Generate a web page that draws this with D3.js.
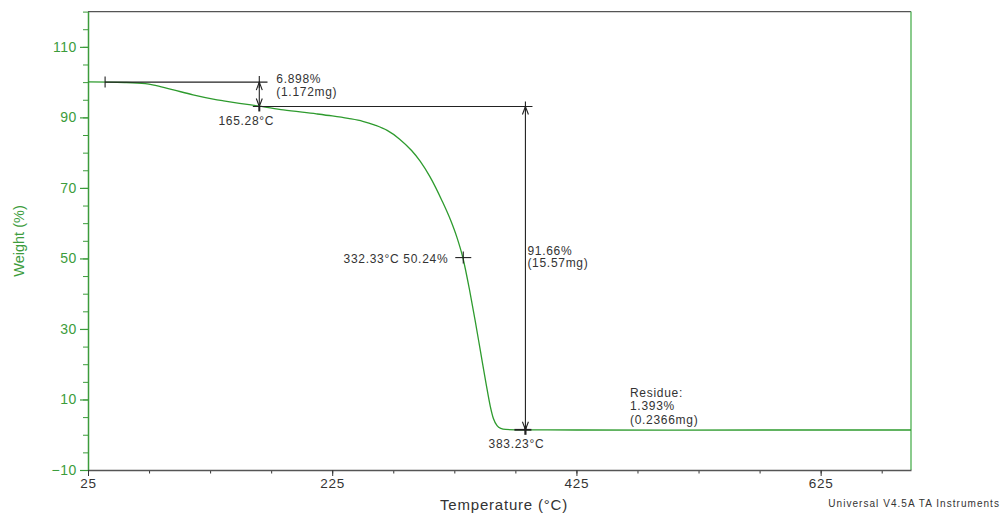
<!DOCTYPE html>
<html>
<head>
<meta charset="utf-8">
<script src="https://cdn.jsdelivr.net/npm/d3@7"></script>
<style>
  body { margin: 0; background: #fff; }
  text { font-family: "Liberation Sans", Arial, sans-serif; }
</style>
</head>
<body>
<script>
// TGA curve: temperature (°C) vs weight (%)
const temps   = [25, 55, 72, 81, 95, 111, 127.5, 136, 149, 165.3, 185, 212, 225, 238, 250, 260, 270, 280, 290, 297, 305, 315, 322, 327, 332, 337.5, 342, 346.5, 351, 354.5, 357, 360, 363, 367, 383.2, 425, 500, 600, 699];
const weights = [100.05, 99.9, 99.6, 99.0, 97.8, 96.4, 95.2, 94.7, 94.0, 93.2, 92.1, 91.0, 90.4, 89.7, 88.9, 87.8, 86.3, 83.9, 80.6, 77.6, 73.2, 66.3, 60.8, 56.1, 50.2, 41.0, 32.5, 23.5, 14.5, 8.0, 4.6, 2.6, 1.8, 1.5, 1.4, 1.35, 1.3, 1.35, 1.35];

const xTicks = [25, 225, 425, 625];
const yTicks = [-10, 10, 30, 50, 70, 90, 110];

// analysis markers
const step1 = { t: 165.28, from: 100, to: 93.1, start: 39, end: 172 };
const step2 = { t: 383.23, from: 93.1, to: 1.4, start: 160, end: 389 };
const midPoint = { t: 332.33, w: 50.24 };

const W = 1003, H = 514;
const x = d3.scaleLinear().domain([25, 699]).range([88, 911]);
const y = d3.scaleLinear().domain([-10, 120]).range([470, 11.6]);

const green = "#3c9c3c", dark = "#333", axisGray = "#555";

const svg = d3.select("body").append("svg").attr("width", W).attr("height", H);

// frame: top gray, right green
svg.append("line").attr("x1", x(25)).attr("x2", x(699)).attr("y1", y(120)).attr("y2", y(120))
  .attr("stroke", axisGray).attr("stroke-width", 1.3);
svg.append("line").attr("x1", x(699)).attr("x2", x(699)).attr("y1", y(120)).attr("y2", y(-10))
  .attr("stroke", "#4caf50").attr("stroke-width", 1.3);

// y axis minor + major
svg.append("g").attr("transform", `translate(${x(25)},0)`)
  .call(d3.axisLeft(y).tickValues(d3.range(-10, 121, 5)).tickSize(5).tickFormat(""))
  .call(g => g.selectAll("line").attr("stroke", green))
  .call(g => g.select(".domain").remove());
const yAx = svg.append("g").attr("transform", `translate(${x(25)},0)`)
  .call(d3.axisLeft(y).tickValues(yTicks).tickSize(8).tickPadding(3).tickSizeOuter(0));
yAx.select(".domain").attr("stroke", green).attr("stroke-width", 1.5);
yAx.selectAll("line").attr("stroke", green).attr("stroke-width", 1.2);
yAx.selectAll("text").attr("fill", green).style("font-size", "14px")
  .style("font-family", "Liberation Sans, Arial").style("letter-spacing", "0.6px");

// x axis
svg.append("g").attr("transform", `translate(0,${y(-10)})`)
  .call(d3.axisBottom(x).tickValues(d3.range(25, 699, 50)).tickSize(3.5).tickFormat(""))
  .call(g => g.selectAll("line").attr("stroke", dark))
  .call(g => g.select(".domain").remove());
const xAx = svg.append("g").attr("transform", `translate(0,${y(-10)})`)
  .call(d3.axisBottom(x).tickValues(xTicks).tickSize(6).tickPadding(2).tickSizeOuter(0));
xAx.select(".domain").attr("stroke", axisGray).attr("stroke-width", 1.5);
xAx.selectAll("line").attr("stroke", dark);
xAx.selectAll("text").attr("fill", dark).style("font-size", "13.5px")
  .style("font-family", "Liberation Sans, Arial").style("letter-spacing", "0.8px");

// axis titles
svg.append("text").attr("transform", `translate(24,241) rotate(-90)`)
  .attr("text-anchor", "middle").attr("fill", green).style("font-size", "14.5px").text("Weight (%)");
svg.append("text").attr("x", 504).attr("y", 510).attr("text-anchor", "middle")
  .attr("fill", dark).style("font-size", "15px").style("letter-spacing", "0.8px").text("Temperature (°C)");
svg.append("text").attr("x", 1000).attr("y", 507).attr("text-anchor", "end")
  .attr("fill", dark).style("font-size", "10px").style("letter-spacing", "1.05px").text("Universal V4.5A TA Instruments");

// curve
const pts = temps.map((t, i) => [t, weights[i]]);
svg.append("path").datum(pts)
  .attr("fill", "none").attr("stroke", "#2e9b2e").attr("stroke-width", 1.3)
  .attr("d", d3.line().x(d => x(d[0])).y(d => y(d[1])).curve(d3.curveMonotoneX));

// annotation helpers
const ann = svg.append("g").attr("stroke", "#222").attr("stroke-width", 1.1).attr("fill", "none");
function hline(t0, t1, w) {
  ann.append("line").attr("x1", x(t0)).attr("x2", x(t1)).attr("y1", y(w)).attr("y2", y(w));
}
function vArrow(t, w0, w1) {
  const px = x(t), ya = y(w0), yb = y(w1);
  ann.append("line").attr("x1", px).attr("x2", px).attr("y1", ya).attr("y2", yb);
  ann.append("path").attr("d", `M${px - 3},${ya + 8}L${px},${ya}L${px + 3},${ya + 8}`);
  ann.append("path").attr("d", `M${px - 3},${yb - 8}L${px},${yb}L${px + 3},${yb - 8}`);
}
function cross(t, w, hw, hh) {
  const px = x(t), py = y(w);
  ann.append("line").attr("x1", px - hw).attr("x2", px + hw).attr("y1", py).attr("y2", py);
  ann.append("line").attr("x1", px).attr("x2", px).attr("y1", py - hh).attr("y2", py + hh);
}

// step 1
hline(step1.start, step1.end, step1.from);
cross(step1.start, step1.from, 0, 5.5);
cross(step1.t, step1.from, 0, 6);
vArrow(step1.t, step1.from, step1.to);
ann.append("line").attr("x1", x(step1.t)).attr("x2", x(step1.t))
  .attr("y1", y(step1.to)).attr("y2", y(step1.to) + 5).attr("stroke-width", 2);
// step 2
hline(step2.start, step2.end, step2.from);
cross(step2.t, step2.from, 0, 5);
vArrow(step2.t, step2.from, step2.to);
ann.append("line").attr("x1", x(step2.t) - 11).attr("x2", x(step2.t) + 6)
  .attr("y1", y(step2.to)).attr("y2", y(step2.to)).attr("stroke-width", 1.8);
ann.append("line").attr("x1", x(step2.t)).attr("x2", x(step2.t))
  .attr("y1", y(step2.to) - 4).attr("y2", y(step2.to) + 5).attr("stroke-width", 2.2);
// midpoint
cross(midPoint.t, midPoint.w, 8, 6);

// annotation text
const labels = svg.append("g").attr("fill", dark).style("font-size", "12px").style("letter-spacing", "0.7px");
function label(px, py, txt, anchor) {
  labels.append("text").attr("x", px).attr("y", py).attr("text-anchor", anchor || "start").text(txt);
}
label(x(step1.t) + 17, y(step1.from) + 1, "6.898%");
label(x(step1.t) + 17, y(step1.from) + 14, "(1.172mg)");
label(x(step1.t) - 13, y(step1.to) + 19, "165.28°C", "middle");
label(x(midPoint.t) - 15, y(midPoint.w) + 5, "332.33°C 50.24%", "end");
label(x(step2.t) + 2, y(55) + 14, "91.66%");
label(x(step2.t) + 2, y(55) + 26, "(15.57mg)");
label(x(step2.t) - 9, y(step2.to) + 18, "383.23°C", "middle");
label(630, y(step2.to) - 33, "Residue:");
label(630, y(step2.to) - 20, "1.393%");
label(630, y(step2.to) - 6, "(0.2366mg)");
</script>
</body>
</html>
